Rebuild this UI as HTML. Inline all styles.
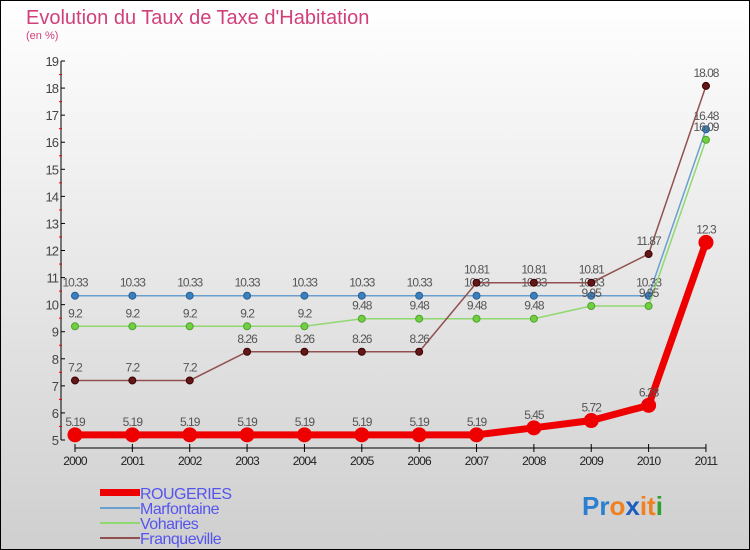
<!DOCTYPE html>
<html><head><meta charset="utf-8"><style>
body{margin:0}
svg{display:block;font-family:"Liberation Sans",sans-serif}
</style></head><body>
<svg id="c" width="750" height="550" xmlns="http://www.w3.org/2000/svg">
<defs><linearGradient id="bg" x1="0" y1="0" x2="0" y2="1"><stop offset="0" stop-color="#ffffff"/><stop offset="1" stop-color="#cfcfcf"/></linearGradient></defs>
<rect x="0.5" y="0.5" width="749" height="549" fill="url(#bg)" stroke="#000"/>
<text x="26" y="24" font-size="20" fill="#d0407a">Evolution du Taux de Taxe d'Habitation</text>
<text x="26" y="39" font-size="11" fill="#d0407a">(en %)</text>
<g id="axes"></g><g id="series"></g>
<g font-size="16" fill="#5555ee" letter-spacing="-0.5">
<rect x="100" y="489" width="40" height="7" fill="#ee0000"/>
<text x="140" y="499">ROUGERIES</text>
<rect x="100" y="507" width="40" height="2" fill="#6aa0d0"/>
<text x="140" y="514">Marfontaine</text>
<rect x="100" y="522" width="40" height="2" fill="#90d870"/>
<text x="140" y="529">Voharies</text>
<rect x="100" y="537" width="40" height="2" fill="#905050"/>
<text x="140" y="544">Franqueville</text>
</g>
<g font-size="26" font-weight="bold">
<text x="582" y="515"><tspan fill="#2a7fd0">Pr</tspan><tspan fill="#f08020">o</tspan><tspan fill="#1a5fc0">x</tspan><tspan fill="#f08020">it</tspan><tspan fill="#30a030">i</tspan></text>
</g>
</svg>
<script>
const years=[2000,2001,2002,2003,2004,2005,2006,2007,2008,2009,2010,2011];
const rougeries=[5.19,5.19,5.19,5.19,5.19,5.19,5.19,5.19,5.45,5.72,6.28,12.3];
const marfontaine=[10.33,10.33,10.33,10.33,10.33,10.33,10.33,10.33,10.33,10.33,10.33,16.48];
const voharies=[9.2,9.2,9.2,9.2,9.2,9.48,9.48,9.48,9.48,9.95,9.95,16.09];
const franqueville=[7.2,7.2,7.2,8.26,8.26,8.26,8.26,10.81,10.81,10.81,11.87,18.08];
const yTicks=[5,6,7,8,9,10,11,12,13,14,15,16,17,18,19];
const NS="http://www.w3.org/2000/svg";
const x=i=>75+i*57.36, y=v=>440-(v-5)*27.07;
function mk(tag,attrs,parent,txt){const e=document.createElementNS(NS,tag);for(const k in attrs)e.setAttribute(k,attrs[k]);if(txt!==undefined)e.textContent=txt;parent.appendChild(e);return e;}
const ax=document.getElementById('axes');
let e=mk('line',{x1:61,y1:y(19),x2:61,y2:y(5),stroke:'#000'},ax);


e=mk('line',{x1:x(0),y1:448,x2:x(11),y2:448,stroke:'#000'},ax);


yTicks.forEach(t=>{
 mk('line',{x1:61,y1:y(t),x2:65,y2:y(t),stroke:'#000'},ax);
 if(t<19)mk('line',{x1:59,y1:y(t+0.5),x2:62,y2:y(t+0.5),stroke:'#e00'},ax);
 const l=mk('text',{x:58,y:y(t)+5,'font-size':13,fill:'#444','text-anchor':'end','letter-spacing':'-1'},ax,t);
 
 
});
years.forEach((yr,i)=>{
 mk('line',{x1:x(i),y1:444,x2:x(i),y2:452,stroke:'#000'},ax);
 const l=mk('text',{x:x(i),y:465,'font-size':12,fill:'#222','text-anchor':'middle','letter-spacing':'-0.8'},ax,yr);
 
 
});
const sg=document.getElementById('series');
function series(name,vals,col,dot,w,r,lc){
 const g=mk('g',{},sg);
 
 
 mk('polyline',{points:vals.map((v,i)=>x(i)+','+y(v)).join(' '),fill:'none',stroke:col,'stroke-width':w},g);
 vals.forEach((v,i)=>{
  const c=mk('circle',{cx:x(i),cy:y(v),r:r,fill:dot,stroke:lc,'stroke-width':1},g);
  
  
  const t=mk('text',{x:x(i),y:y(v)-9,'font-size':12,fill:'#555','text-anchor':'middle','letter-spacing':'-1'},g,v);
  
  
 });
}
series('marfontaine',marfontaine,'#6aa0d0','#3a80c0',1.5,3.5,'#2a5f90');
series('voharies',voharies,'#90d870','#70d040',1.5,3.5,'#50a030');
series('franqueville',franqueville,'#905050','#601818',1.5,3.5,'#400000');
series('rougeries',rougeries,'#ee0000','#ee0000',7,7,'#ee0000');
</script>
</body></html>
